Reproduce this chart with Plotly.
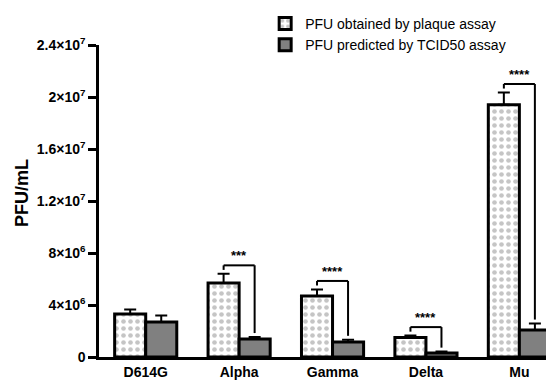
import plotly.graph_objects as go

categories = ["D614G", "Alpha", "Gamma", "Delta", "Mu"]
plaque_vals = [3.3e6, 5.7e6, 4.7e6, 1.5e6, 19.4e6]
plaque_err = [0.35e6, 0.7e6, 0.5e6, 0.15e6, 0.95e6]
tcid_vals = [2.7e6, 1.38e6, 1.15e6, 0.3e6, 2.08e6]
tcid_err = [0.5e6, 0.16e6, 0.18e6, 0.12e6, 0.5e6]
sig_labels = ["", "***", "****", "****", "****"]
ytick_vals = [0, 4e6, 8e6, 1.2e7, 1.6e7, 2e7, 2.4e7]
ytick_text = ["0", "4×10<sup>6</sup>", "8×10<sup>6</sup>", "1.2×10<sup>7</sup>",
              "1.6×10<sup>7</sup>", "2×10<sup>7</sup>", "2.4×10<sup>7</sup>"]

FONT = "Liberation Sans, Arial, sans-serif"
idx = list(range(len(categories)))

fig = go.Figure()
fig.add_trace(go.Bar(
    x=idx, y=plaque_vals, name="PFU obtained by plaque assay",
    marker=dict(color="white", line=dict(color="black", width=3),
                pattern=dict(shape=".", fgcolor="#8c8c8c", bgcolor="white", size=7, solidity=0.35)),
    error_y=dict(type="data", array=plaque_err, arrayminus=[0]*5, symmetric=False,
                 color="black", thickness=2, width=6),
))
fig.add_trace(go.Bar(
    x=idx, y=tcid_vals, name="PFU predicted by TCID50 assay",
    marker=dict(color="#808080", line=dict(color="black", width=3)),
    error_y=dict(type="data", array=tcid_err, arrayminus=[0]*5, symmetric=False,
                 color="black", thickness=2, width=6),
))

# significance brackets derived from the data
half = 0.166
for i, lab in enumerate(sig_labels):
    if not lab:
        continue
    top_p = plaque_vals[i] + plaque_err[i]
    top_t = tcid_vals[i] + tcid_err[i]
    yb = top_p + 0.65e6
    fig.add_shape(type="line", x0=i - half, x1=i - half, y0=yb, y1=top_p + 0.3e6,
                  line=dict(color="black", width=2))
    fig.add_shape(type="line", x0=i - half, x1=i + half, y0=yb, y1=yb,
                  line=dict(color="black", width=2))
    fig.add_shape(type="line", x0=i + half, x1=i + half, y0=yb, y1=top_t + 0.3e6,
                  line=dict(color="black", width=2))
    fig.add_annotation(x=i, y=yb, text="<b>" + lab + "</b>", showarrow=False,
                       yanchor="bottom", yshift=0, font=dict(family=FONT, size=13, color="black"))

# y-axis title
fig.add_annotation(text="<b>PFU/mL</b>", xref="paper", yref="paper", x=0, y=0.526,
                   xshift=-77, xanchor="center", yanchor="middle", textangle=-90,
                   showarrow=False, font=dict(family=FONT, size=18, color="black"))

fig.update_layout(
    width=546, height=374,
    margin=dict(l=91, r=1, t=37, b=25, autoexpand=False),
    paper_bgcolor="white", plot_bgcolor="white",
    barmode="group", bargap=0.335, bargroupgap=0,
    font=dict(family=FONT, color="black"),
    showlegend=True,
    legend=dict(x=0.471, y=1.01, xref="container", yref="container",
                xanchor="left", yanchor="top",
                font=dict(family=FONT, size=14, color="black"),
                bgcolor="rgba(0,0,0,0)", traceorder="normal", tracegroupgap=0),
    xaxis=dict(range=[-0.5, 4.36], tickmode="array", tickvals=idx,
               ticktext=["<b>" + c + "</b>" for c in categories],
               showline=True, linecolor="black", linewidth=2.5, ticks="",
               tickfont=dict(family=FONT, size=14, color="black"), showgrid=False, zeroline=False),
    yaxis=dict(range=[0, 2.4e7], tickmode="array", tickvals=ytick_vals,
               ticktext=["<b>" + t + "</b>" for t in ytick_text],
               showline=True, linecolor="black", linewidth=2.5, ticks="outside",
               ticklen=8, tickwidth=2.5, tickcolor="black",
               tickfont=dict(family=FONT, size=14, color="black"), showgrid=False, zeroline=False),
)

fig.write_html("out.html")
